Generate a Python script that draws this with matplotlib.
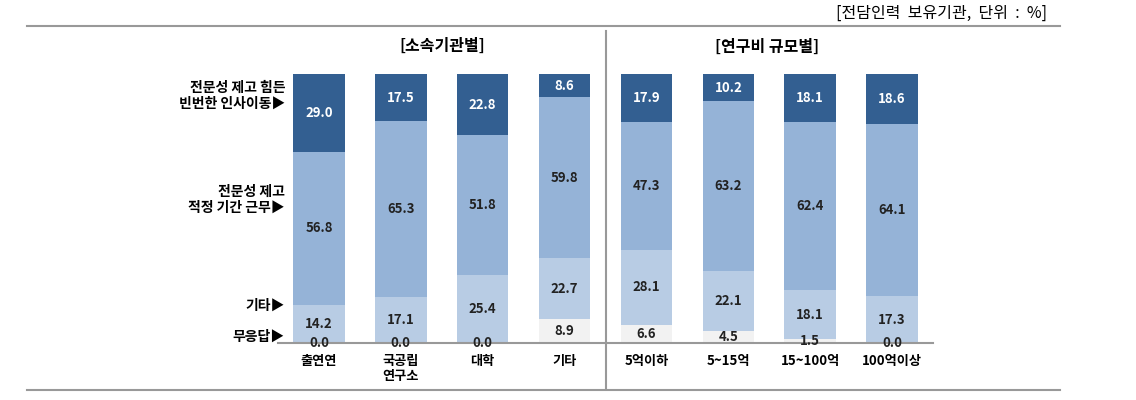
import matplotlib
matplotlib.use("Agg")
import matplotlib.pyplot as plt
import numpy as np

plt.rcParams['font.family'] = ['Noto Sans CJK KR', 'DejaVu Sans']

categories = ['출연연', '국공립\n연구소', '대학', '기타', '5억이하', '5~15억', '15~100억', '100억이상']
no_answer = [0.0, 0.0, 0.0, 8.9, 6.6, 4.5, 1.5, 0.0]
etc = [14.2, 17.1, 25.4, 22.7, 28.1, 22.1, 18.1, 17.3]
proper_period = [56.8, 65.3, 51.8, 59.8, 47.3, 63.2, 62.4, 64.1]
frequent_move = [29.0, 17.5, 22.8, 8.6, 17.9, 10.2, 18.1, 18.6]

series = [no_answer, etc, proper_period, frequent_move]
colors = ['#f2f2f2', '#b8cce4', '#95b3d7', '#335f91']
text_colors = ['#222222', '#222222', '#222222', 'white']
side_labels = ['무응답▶', '기타▶', '전문성 제고\n적정 기간 근무▶', '전문성 제고 힘든\n빈번한 인사이동▶']

W, H = 1136, 400
fig = plt.figure(figsize=(W / 100, H / 100), dpi=100)
ax = fig.add_axes([278 / W, 1 - 343 / H, (933 - 278) / W, (343 - 74) / H])

x = np.arange(len(categories))
bottom = np.zeros(len(categories))
for vals, c, tc in zip(series, colors, text_colors):
    vals = np.array(vals)
    ax.bar(x, vals, width=0.63, bottom=bottom, color=c, edgecolor='none', zorder=2)
    for xi, b, v in zip(x, bottom, vals):
        ax.text(xi, b + v / 2, f'{v:.1f}', ha='center', va='center',
                fontsize=9.5, fontweight='bold', color=tc, zorder=4)
    bottom += vals

ax.set_xlim(-0.5, 7.5)
ax.set_ylim(0, 100)
for s in ['top', 'right', 'left']:
    ax.spines[s].set_visible(False)
ax.spines['bottom'].set_color('#999999')
ax.spines['bottom'].set_linewidth(1.5)
ax.spines['bottom'].set_zorder(3)
ax.set_yticks([])
ax.set_xticks(x)
ax.set_xticklabels(categories, fontsize=9.5, fontweight='bold', linespacing=1.1)
ax.tick_params(axis='x', length=0, pad=8)

# side labels (positions in pixels)
side_y = [337, 306, 200, 96]
for lab, yy in zip(side_labels, side_y):
    fig.text(285 / W, 1 - yy / H, lab, ha='right', va='center', fontsize=10,
             fontweight='bold', linespacing=1.15)

fig.text(442 / W, 1 - 46 / H, '[소속기관별]', ha='center', va='center', fontsize=11.5, fontweight='bold')
fig.text(767 / W, 1 - 47 / H, '[연구비 규모별]', ha='center', va='center', fontsize=11.5, fontweight='bold')
fig.text(1047 / W, 1 - 13 / H, '[전담인력  보유기관,  단위  :  %]', ha='right', va='center', fontsize=11.5)

# frame lines
fig.add_artist(plt.Line2D([27 / W, 1060 / W], [1 - 26 / H, 1 - 26 / H], color='#999999', lw=1.5))
fig.add_artist(plt.Line2D([27 / W, 1060 / W], [1 - 390 / H, 1 - 390 / H], color='#999999', lw=1.5))
fig.add_artist(plt.Line2D([606 / W, 606 / W], [1 - 31 / H, 1 - 388 / H], color='#999999', lw=1.5))

fig.savefig('out.png', dpi=100)
